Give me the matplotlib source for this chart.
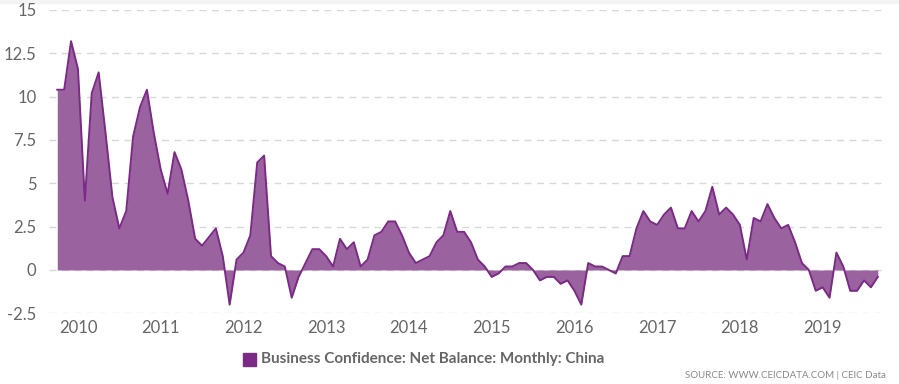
import numpy as np
import matplotlib.pyplot as plt

# Monthly values, Oct 2009 .. Sep 2019
start_year, start_month = 2009, 10
values = [
    10.4, 10.4, 13.2, 11.6, 4.0, 10.2, 11.4, 7.9, 4.2, 2.4, 3.4, 7.7,
    9.4, 10.4, 7.9, 5.8, 4.4, 6.8, 5.8, 4.0, 1.8, 1.4, 1.9, 2.4,
    0.8, -2.0, 0.6, 1.0, 2.0, 6.2, 6.6, 0.8, 0.4, 0.2, -1.6, -0.4,
    0.4, 1.2, 1.2, 0.8, 0.2, 1.8, 1.2, 1.6, 0.2, 0.6, 2.0, 2.2,
    2.8, 2.8, 2.0, 1.0, 0.4, 0.6, 0.8, 1.6, 2.0, 3.4, 2.2, 2.2,
    1.6, 0.6, 0.2, -0.4, -0.2, 0.2, 0.2, 0.4, 0.4, 0.0, -0.6, -0.4,
    -0.4, -0.8, -0.6, -1.2, -2.0, 0.4, 0.2, 0.2, 0.0, -0.2, 0.8, 0.8,
    2.4, 3.4, 2.8, 2.6, 3.2, 3.6, 2.4, 2.4, 3.4, 2.8, 3.4, 4.8,
    3.2, 3.6, 3.2, 2.6, 0.6, 3.0, 2.8, 3.8, 3.0, 2.4, 2.6, 1.6,
    0.4, 0.0, -1.2, -1.0, -1.6, 1.0, 0.2, -1.2, -1.2, -0.6, -1.0, -0.4,
]
years = list(range(2010, 2020))
y_ticks = [15, 12.5, 10, 7.5, 5, 2.5, 0, -2.5]
y_tick_labels = ["15", "12.5", "10", "7.5", "5", "2.5", "0", "-2.5"]

series_name = "Business Confidence: Net Balance: Monthly: China"
source_text = "SOURCE: WWW.CEICDATA.COM | CEIC Data"

line_color = "#7b2a85"
fill_color = "#9b62a0"
text_color = "#666666"
plt.rcParams["font.family"] = ["Lato", "DejaVu Sans"]

# month index relative to first observation
x = np.arange(len(values))
v = np.array(values)
year_pos = [(yr - start_year) * 12 + (1 - start_month) for yr in years]

fig = plt.figure(figsize=(8.99, 3.84), dpi=100)
fig.patches.append(plt.Rectangle((0, 1 - 3 / 384), 1, 3 / 384, zorder=-1,
                                 transform=fig.transFigure, color="#f4f4f4"))
ax = fig.add_axes([49 / 899, 1 - 313.3 / 384, (884 - 49) / 899, (313.3 - 10) / 384])

ax.fill_between(x, v, 0, color=fill_color, linewidth=0)
ax.plot(x, v, color=line_color, linewidth=1.4)

ax.set_xlim(-1.2, 119.9)
ax.set_ylim(-2.5, 15)

for yt in y_ticks:
    ax.axhline(yt, color="#d8d8d8", linewidth=1, linestyle=(0, (5, 4)), zorder=0)

for s in ax.spines.values():
    s.set_visible(False)

ax.set_yticks(y_ticks)
ax.set_yticklabels(y_tick_labels, fontsize=12, color=text_color)
ax.set_xticks(year_pos)
ax.set_xticklabels([str(yr) for yr in years], fontsize=12, color=text_color)
ax.tick_params(axis="both", length=0)
ax.tick_params(axis="y", pad=9)
ax.tick_params(axis="x", pad=5)

# legend drawn as marker + text
fig.patches.append(plt.Rectangle((243 / 899, 1 - 366 / 384), 13 / 899, 13 / 384,
                                 transform=fig.transFigure, color="#7b2a85"))
fig.text(261 / 899, 1 - 359 / 384, series_name, fontsize=11, fontweight="bold",
         color="#666666", va="center", ha="left")
fig.text(886 / 899, 1 - 376 / 384, source_text, fontsize=7, color="#888888",
         va="center", ha="right")

fig.savefig("out.png", dpi=100)
